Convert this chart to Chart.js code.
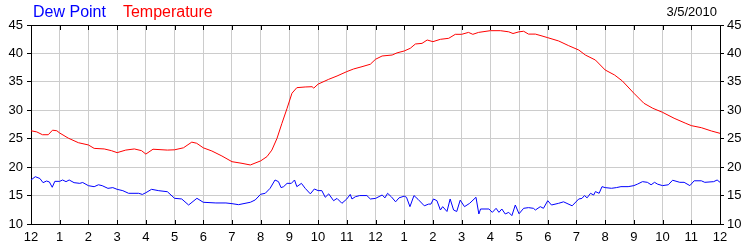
<!DOCTYPE html>
<html>
<head>
<meta charset="utf-8">
<script src="https://cdn.jsdelivr.net/npm/chart.js@4/dist/chart.umd.min.js"></script>
<style>
  body { margin: 0; background: #fff; }
  canvas { display: block; }
</style>
</head>
<body>
<canvas id="weather_chart" width="750" height="250"></canvas>
<script>
// hour labels along the bottom (midnight to midnight)
var hourLabels = ['12','1','2','3','4','5','6','7','8','9','10','11','12','1','2','3','4','5','6','7','8','9','10','11','12'];
var yTicks = [10, 15, 20, 25, 30, 35, 40, 45];
var dateLabel = '3/5/2010';

// temperature (hours since midnight / value)
var tempHours = [0,0.2,0.4,0.6,0.75,0.9,1,1.3,1.65,2,2.2,2.55,2.8,3,3.3,3.6,3.85,4,4.25,4.75,
  5,5.31,5.6,5.77,6,6.3,6.65,7,7.35,7.64,8,8.22,8.39,8.57,8.74,8.92,9.09,9.26,9.55,9.79,9.85,
  10,10.37,10.66,11,11.24,11.53,11.82,12,12.23,12.58,12.75,13,13.21,13.39,13.62,13.8,14,14.26,
  14.55,14.78,15,15.24,15.39,15.59,16,16.35,16.64,16.79,17,17.16,17.33,17.57,17.8,18,18.38,
  18.73,19.08,19.31,19.66,20,20.33,20.6,21,21.35,21.66,22,22.4,22.81,23,23.35,23.7,24];
var tempValues = [26.4,26.2,25.7,25.7,26.5,26.4,26.0,25.1,24.3,23.9,23.3,23.2,22.9,22.55,23.0,23.2,22.9,22.3,23.15,23.0,
  23.05,23.4,24.4,24.2,23.4,22.84,21.96,20.96,20.67,20.38,21.1,21.85,23.0,25.07,27.7,30.35,33.0,33.98,34.1,34.15,33.9,
  34.6,35.45,36.03,36.8,37.27,37.67,38.1,38.97,39.55,39.72,40.1,40.43,40.9,41.66,41.77,42.36,42.07,42.48,
  42.66,43.36,43.36,43.7,43.36,43.7,44.0,44.0,43.8,43.5,43.8,43.9,43.4,43.4,43.07,42.77,42.19,
  41.36,40.6,39.72,38.84,37.09,36.2,35.15,33.0,31.23,30.35,29.64,28.6,27.7,27.3,26.94,26.36,25.95];

// dew point
var dewHours = [0,0.15,0.31,0.42,0.54,0.64,0.74,0.83,1,1.1,1.22,1.33,1.5,1.7,1.8,2,2.2,2.35,2.48,2.68,2.85,
  3,3.2,3.4,3.75,3.88,4,4.2,4.45,4.75,5,5.25,5.49,5.78,6,6.44,6.79,7,7.23,7.64,7.81,8,8.16,8.33,8.5,
  8.62,8.71,8.8,8.92,9.07,9.18,9.26,9.42,9.55,9.73,9.87,10,10.13,10.25,10.37,10.54,10.66,10.83,11,
  11.12,11.18,11.3,11.45,11.7,11.82,12,12.23,12.33,12.42,12.55,12.7,12.82,13,13.08,13.2,13.34,13.48,
  13.7,13.85,13.93,14.02,14.14,14.26,14.34,14.49,14.6,14.72,14.83,14.95,15.1,15.28,15.5,15.6,15.66,
  15.95,16.07,16.2,16.3,16.4,16.52,16.64,16.75,16.87,17,17.16,17.33,17.5,17.57,17.74,17.85,18,18.13,
  18.38,18.55,18.85,19.08,19.19,19.28,19.37,19.49,19.6,19.66,19.79,19.89,20,20.22,20.39,20.55,20.8,
  21,21.12,21.3,21.47,21.6,21.72,21.83,22,22.2,22.35,22.6,22.75,22.95,23.1,23.35,23.47,23.78,23.9,24];
var dewValues = [17.74,18.32,18.0,17.27,17.56,17.4,16.46,17.5,17.5,17.74,17.45,17.74,17.27,17.15,17.3,16.74,16.56,16.9,16.74,16.27,16.4,
  16.1,15.86,15.4,15.4,15.2,15.5,16.1,15.86,15.68,14.52,14.4,13.34,14.52,13.82,13.7,13.7,13.58,13.4,13.82,14.23,15.23,15.4,16.28,17.74,
  17.45,16.4,16.57,17.15,17.15,17.74,16.57,17.15,16.28,15.3,16.16,15.87,15.87,14.7,15.3,14.1,14.5,13.64,14.4,
  15.2,14.4,14.8,15.0,15.0,14.4,14.5,15.1,14.6,15.4,14.8,13.9,14.6,14.9,14.7,13.05,15.0,14.35,
  13.2,13.5,13.5,14.4,14.1,12.46,13.05,12.2,14.4,12.46,12.2,14.2,13.05,13.64,14.7,11.76,12.64,
  12.64,12.05,12.76,12.05,12.64,11.76,12.05,11.47,13.34,11.8,12.76,12.88,12.76,12.46,13.05,12.76,14.1,13.34,
  13.64,13.9,13.2,14.4,14.5,15.0,14.6,15.4,15.1,15.7,15.4,16.57,16.4,16.28,16.4,16.57,16.57,
  16.75,17.0,17.45,17.33,16.9,17.33,17.0,16.75,16.9,17.7,17.33,17.33,16.75,17.6,17.6,17.33,17.45,17.74,17.33];

function toPoints(xs, ys) {
  return xs.map(function(h, i) { return {x: h, y: ys[i]}; });
}

var tickFont = {family: '"Liberation Sans", Arial, sans-serif', size: 13};

// top frame line, inner hour ticks, legend text and the date
var decor = {
  id: 'decor',
  afterDraw: function(chart) {
    var ctx = chart.ctx, a = chart.chartArea, x = chart.scales.x;
    ctx.save();
    ctx.strokeStyle = '#000';
    ctx.lineWidth = 1;
    ctx.beginPath();
    ctx.moveTo(a.left, Math.round(a.top) + 0.5);
    ctx.lineTo(a.right, Math.round(a.top) + 0.5);
    for (var h = 1; h < 24; h++) {
      var px = Math.round(x.getPixelForValue(h)) + 0.5;
      ctx.moveTo(px, a.top); ctx.lineTo(px, a.top + 5);
      ctx.moveTo(px, a.bottom); ctx.lineTo(px, a.bottom - 4);
    }
    ctx.stroke();

    ctx.font = '16px "Liberation Sans", Arial, sans-serif';
    ctx.textBaseline = 'alphabetic';
    var lx = 33;
    chart.data.datasets.forEach(function(ds) {
      ctx.fillStyle = ds.borderColor;
      ctx.fillText(ds.label, lx, 17);
      lx += ctx.measureText(ds.label).width + 17;
    });
    ctx.font = '13px "Liberation Sans", Arial, sans-serif';
    ctx.fillStyle = '#000';
    ctx.textAlign = 'right';
    ctx.fillText(dateLabel, 717, 16);
    ctx.restore();
  }
};

var ctx = document.getElementById('weather_chart').getContext('2d');
new Chart(ctx, {
  type: 'line',
  data: {
    datasets: [
      {
        label: 'Dew Point',
        data: toPoints(dewHours, dewValues),
        borderColor: '#0000ff',
        borderWidth: 1,
        pointRadius: 0,
        tension: 0
      },
      {
        label: 'Temperature',
        data: toPoints(tempHours, tempValues),
        borderColor: '#ff0000',
        borderWidth: 1,
        pointRadius: 0,
        tension: 0
      }
    ]
  },
  options: {
    responsive: false,
    animation: false,
    devicePixelRatio: 1,
    layout: {padding: {top: 25, left: 0, right: 0, bottom: 0}},
    plugins: {legend: {display: false}, tooltip: {enabled: false}},
    scales: {
      x: {
        type: 'linear',
        min: 0, max: 24,
        afterFit: function(s) { s.height = 26; },
        afterBuildTicks: function(s) {
          s.ticks = hourLabels.map(function(l, i) { return {value: i}; });
        },
        ticks: {
          callback: function(v) { return hourLabels[v]; },
          autoSkip: false, maxRotation: 0, padding: 6,
          color: '#000', font: tickFont
        },
        grid: {color: '#cccccc', drawTicks: false},
        border: {color: '#000'}
      },
      y: {
        min: 10, max: 45,
        afterFit: function(s) { s.width = 31; },
        afterBuildTicks: function(s) {
          s.ticks = yTicks.map(function(v) { return {value: v}; });
        },
        ticks: {padding: 4, color: '#000', font: tickFont},
        grid: {color: '#cccccc', tickColor: '#000', tickLength: 4},
        border: {color: '#000'}
      },
      y2: {
        position: 'right',
        min: 10, max: 45,
        afterFit: function(s) { s.width = 30; },
        afterBuildTicks: function(s) {
          s.ticks = yTicks.map(function(v) { return {value: v}; });
        },
        ticks: {padding: 3, color: '#000', font: tickFont},
        grid: {drawOnChartArea: false, tickColor: '#000', tickLength: 4},
        border: {color: '#000'}
      }
    }
  },
  plugins: [decor]
});
</script>
</body>
</html>
